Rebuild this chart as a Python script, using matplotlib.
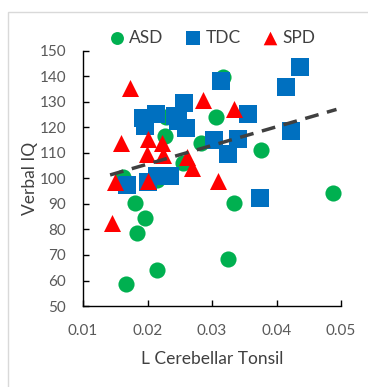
import numpy as np
import matplotlib
matplotlib.use('Agg')
import matplotlib.pyplot as plt
from matplotlib.patches import Rectangle

plt.rcParams['font.family'] = ['Lato', 'DejaVu Sans']

# ASD
asd_x = [0.0167, 0.0215, 0.0183, 0.0196, 0.0181, 0.0325, 0.0334, 0.0488, 0.0376,
         0.0306, 0.0317, 0.0283, 0.0229, 0.0227, 0.0255, 0.0215, 0.0162]
asd_y = [58.6, 64.1, 78.5, 84.4, 90.5, 68.4, 90.4, 94.3, 111.2,
         124.1, 139.8, 113.9, 124.1, 116.7, 106.1, 99.4, 100.6]
# TDC
tdc_x = [0.0436, 0.0415, 0.0314, 0.0356, 0.0422, 0.0303, 0.0340, 0.0325, 0.0374,
         0.0193, 0.0196, 0.0213, 0.0243, 0.0257, 0.0260, 0.0247,
         0.0168, 0.0201, 0.0215, 0.0235]
tdc_y = [143.7, 135.9, 138.2, 125.3, 118.6, 115.1, 115.5, 109.6, 92.4,
         123.7, 120.6, 125.3, 124.5, 129.6, 119.8, 122.5,
         97.5, 98.6, 101.0, 101.0]
# SPD
spd_x = [0.0173, 0.0286, 0.0334, 0.0159, 0.0201, 0.0222, 0.0199, 0.0224,
         0.0261, 0.0269, 0.0150, 0.0201, 0.0309, 0.0145]
spd_y = [135.5, 130.8, 127.3, 113.9, 115.5, 113.9, 109.6, 109.2,
         108.4, 104.1, 98.6, 99.0, 99.0, 82.5]

# trendline
trend_slope = 732.0
trend_intercept = 91.0
trend_range = [0.0142, 0.0493]

fig = plt.figure(figsize=(3.68, 3.87), dpi=100)
fig.patches.append(Rectangle((8 / 368, -0.1), 1.2, 1.1 - 12 / 387,
                             transform=fig.transFigure, fill=False,
                             edgecolor='#d9d9d9', linewidth=1))
ax = fig.add_axes([83 / 368, 1 - 306 / 387, 258 / 368, 255 / 387])

ax.scatter(asd_x, asd_y, s=135, marker='o', color='#00B050', label='ASD', zorder=2, linewidths=0)
ax.scatter(tdc_x, tdc_y, s=155, marker='s', color='#0070C0', label='TDC', zorder=3, linewidths=0)
ax.scatter(spd_x, spd_y, s=150, marker='^', color='#FF0000', label='SPD', zorder=4, linewidths=0)

tx = np.array(trend_range)
ax.plot(tx, trend_slope * tx + trend_intercept, color='#404040', linewidth=2.5,
        dashes=(4, 2.5), zorder=5)

ax.set_xlim(0.01, 0.05)
ax.set_ylim(50, 150)
ax.set_xticks([0.01, 0.02, 0.03, 0.04, 0.05])
ax.set_xticklabels(['0.01', '0.02', '0.03', '0.04', '0.05'])
ax.set_yticks(range(50, 151, 10))
for s in ['top', 'right']:
    ax.spines[s].set_visible(False)
for s in ['left', 'bottom']:
    ax.spines[s].set_color('black')
    ax.spines[s].set_linewidth(1)
ax.tick_params(direction='in', length=4, width=1, color='black',
               labelcolor='#595959', labelsize=11)
ax.tick_params(axis='x', pad=13)
ax.tick_params(axis='y', pad=12)

ax.set_xlabel('L Cerebellar Tonsil', fontsize=12.5, color='#404040', labelpad=9)
ax.set_ylabel('Verbal IQ', fontsize=12.5, color='#404040', labelpad=1)

fig.legend(loc='center', bbox_to_anchor=(0.576, 1 - 38 / 387), ncol=3, frameon=False,
           fontsize=12.5, handlelength=1.0, handletextpad=0.2, columnspacing=1.2,
           markerscale=0.8, labelcolor='#404040')

fig.savefig('out.png', dpi=100)
